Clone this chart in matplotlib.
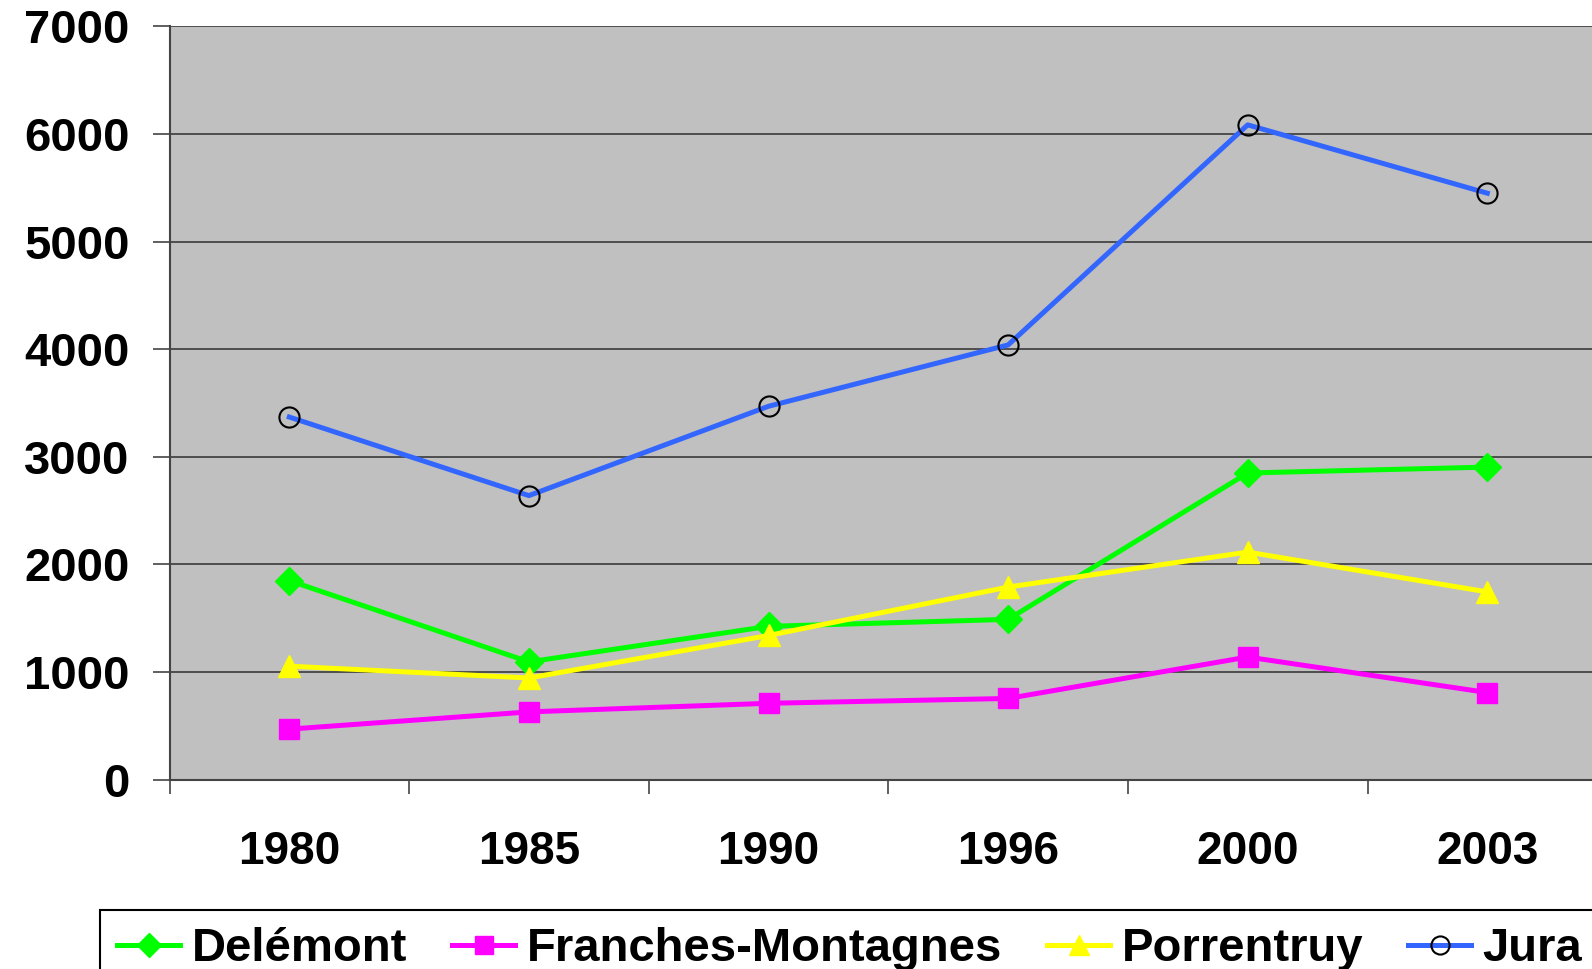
import matplotlib
matplotlib.use("Agg")
import matplotlib.pyplot as plt
import numpy as np

years = ["1980", "1985", "1990", "1996", "2000", "2003"]
delemont = [1850, 1095, 1425, 1490, 2850, 2905]
franches = [470, 630, 710, 755, 1140, 810]
porrentruy = [1055, 945, 1340, 1790, 2115, 1745]
jura = [3370, 2640, 3470, 4040, 6085, 5450]
yticks = [0, 1000, 2000, 3000, 4000, 5000, 6000, 7000]

plt.rcParams['font.family'] = ['Liberation Sans', 'DejaVu Sans']

W, H = 1592, 969
fig = plt.figure(figsize=(W / 100, H / 100), dpi=100)
ax = fig.add_axes([169.5 / W, 1 - 779.7 / H, (W - 169.5) / W, (779.7 - 26.4) / H])
ax.set_facecolor('#C0C0C0')

x = np.arange(len(years)) + 0.5
lw = 3.6
ax.plot(x, delemont, color='#00FF00', lw=lw, marker='D', ms=14, mec='#00FF00', label='Delémont', zorder=3)
ax.plot(x, franches, color='#FF00FF', lw=lw, marker='s', ms=14, mec='#FF00FF', label='Franches-Montagnes', zorder=3)
ax.plot(x, porrentruy, color='#FFFF00', lw=lw, marker='^', ms=16, mec='#FFFF00', label='Porrentruy', zorder=3)
ax.plot(x, jura, color='#3366FF', lw=lw, marker='o', ms=14.5, mfc='none', mec='black', mew=1.5, label='Jura', zorder=3)

ax.set_xlim(0, (W - 169.5) / 239.6)
ax.set_ylim(0, 7000)
ax.set_yticks(yticks)
ax.set_yticklabels([str(v) for v in yticks], fontsize=34, fontweight='bold')
ax.set_xticks(np.arange(0, 6))
ax.set_xticklabels([])
ax.set_xticks(x, minor=True)
ax.set_xticklabels(years, minor=True, fontsize=33, fontweight='bold')
ax.tick_params(axis='x', which='minor', length=0, pad=36)
ax.tick_params(axis='x', which='major', length=10, width=1.2, color='#444444', direction='out')
ax.tick_params(axis='y', length=12.2, width=1.2, color='#444444', direction='out', pad=16.5)
ax.yaxis.grid(True, color='#444444', lw=1.3)
ax.set_axisbelow(True)
for s in ['top', 'right']:
    ax.spines[s].set_visible(False)
for s in ['left', 'bottom']:
    ax.spines[s].set_color('#444444')
    ax.spines[s].set_linewidth(1.5)

leg = fig.legend(loc='upper left', bbox_to_anchor=(100 / W, 1 - 910 / H), ncol=4,
                 borderaxespad=0, frameon=True, fancybox=False, edgecolor='black', framealpha=1,
                 prop={'size': 34, 'weight': 'bold'}, handlelength=1.33, handletextpad=0.25,
                 columnspacing=0.95, borderpad=0.37, markerscale=0.9)
leg.get_frame().set_linewidth(1.5)

fig.savefig('out.png', dpi=100)
